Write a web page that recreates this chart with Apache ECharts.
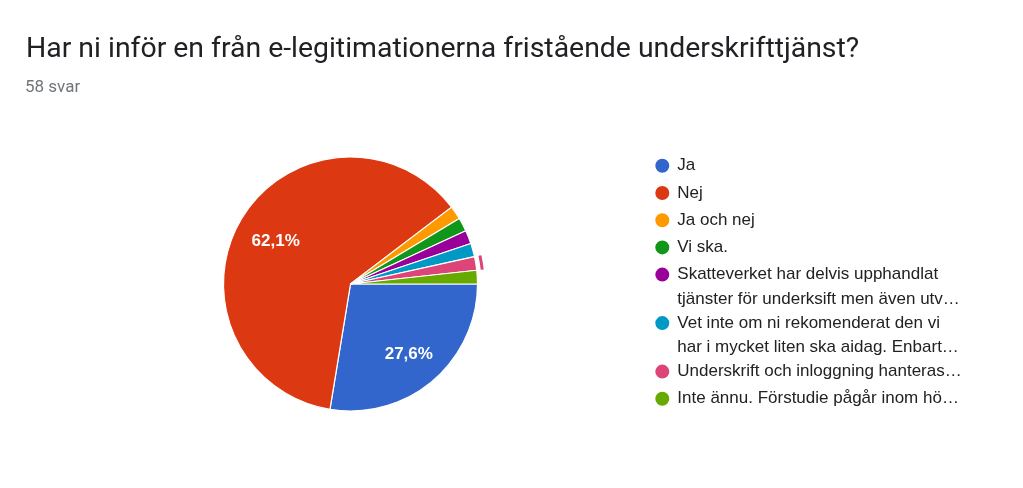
<!DOCTYPE html>
<html><head><meta charset="utf-8">
<script src="https://cdn.jsdelivr.net/npm/echarts@6/dist/echarts.min.js"></script>
<style>html,body{margin:0;padding:0;background:#fff}#c{width:1023px;height:488px}</style>
</head><body><div id="c"></div>
<script>
const titleText = 'Har ni inför en från e-legitimationerna fristående underskrifttjänst?';
const subtitleText = '58 svar';
const categories = [
  'Ja',
  'Nej',
  'Ja och nej',
  'Vi ska.',
  'Skatteverket har delvis upphandlat\ntjänster för underksift men även utv…',
  'Vet inte om ni rekomenderat den vi\nhar i mycket liten ska aidag. Enbart…',
  'Underskrift och inloggning hanteras…',
  'Inte ännu. Förstudie pågår inom hö…'
];
const counts = [16, 36, 1, 1, 1, 1, 1, 1];
const colors = ['#3366cc', '#dc3912', '#ff9900', '#109618', '#990099', '#0099c6', '#dd4477', '#66aa00'];
const highlightedCategory = 'Underskrift och inloggning hanteras…';

const total = counts.reduce((a, b) => a + b, 0);
const pieData = categories.map((name, i) => ({ name: name, value: counts[i], itemStyle: { color: colors[i] } }));

const CX = 350.5, CY = 284, R = 127;
const legendFont = 'Liberation Sans, Arial, sans-serif';
const lh = 24.5;
const lineStep = 21.3, itemStep = 5.9, firstRowY = 165.8;
let lineIdx = 0;
const legends = categories.map((name, i) => {
  const lines = name.split('\n');
  const n = lines.length;
  const cy = firstRowY + lineIdx * lineStep + i * itemStep;
  lineIdx += n;
  const H = (2 * n - 1) * lh;
  return {
    orient: 'vertical',
    left: 653.3,
    top: cy - H / 2,
    padding: 0,
    itemWidth: 20,
    itemHeight: 16,
    itemGap: 0,
    icon: 'circle',
    selectedMode: false,
    data: [name],
    formatter: () => {
      const body = lines.map(l => '{t|' + l + '}').join('\n');
      return n > 1 ? lines.slice(1).map(() => '{sp| }').join('\n') + '\n' + body : body;
    },
    textStyle: {
      fontFamily: legendFont,
      fontSize: 17,
      color: '#222222',
      lineHeight: lh,
      rich: {
        t: { fontFamily: legendFont, fontSize: 17, color: '#222222', lineHeight: lh },
        sp: { fontFamily: legendFont, fontSize: 17, color: 'rgba(0,0,0,0)', lineHeight: lh }
      }
    }
  };
});

const chart = echarts.init(document.getElementById('c'));
chart.setOption({
  animation: false,
  backgroundColor: '#ffffff',
  title: [
    { text: titleText, left: 26, top: 36, padding: 0,
      textStyle: { fontFamily: 'Roboto, sans-serif', fontSize: 28.4, lineHeight: 28, fontWeight: 'normal', color: '#202124' } },
    { text: subtitleText, left: 25, top: 79, padding: 0,
      textStyle: { fontFamily: 'Roboto, sans-serif', fontSize: 17, lineHeight: 17, fontWeight: 'normal', color: '#70757a' } }
  ],
  legend: legends,
  series: [
    {
      type: 'pie', center: [CX, CY], radius: [0, R], startAngle: 0, clockwise: true,
      avoidLabelOverlap: false, silent: true,
      label: { show: false }, labelLine: { show: false },
      itemStyle: { borderColor: '#ffffff', borderWidth: 1.2 },
      emphasis: { disabled: true },
      data: pieData
    },
    {
      type: 'pie', center: [CX, CY], radius: [44, R], startAngle: 0, clockwise: true,
      avoidLabelOverlap: false, silent: true,
      itemStyle: { color: 'rgba(0,0,0,0)' },
      emphasis: { disabled: true },
      label: {
        show: true, position: 'inside', color: '#ffffff', offset: [1, 3],
        fontFamily: legendFont, fontSize: 17, fontWeight: 'bold',
        formatter: p => (p.value / total * 100 >= 5 ? (p.value / total * 100).toFixed(1).replace('.', ',') + '%' : '')
      },
      labelLine: { show: false },
      data: categories.map((name, i) => ({ name: name, value: counts[i] }))
    },
    {
      type: 'pie', center: [CX, CY], radius: [131, 134], startAngle: 0, clockwise: true,
      avoidLabelOverlap: false, silent: true,
      label: { show: false }, labelLine: { show: false },
      emphasis: { disabled: true },
      data: categories.map((name, i) => ({
        name: name, value: counts[i],
        itemStyle: { color: name === highlightedCategory ? colors[i] : 'rgba(0,0,0,0)' }
      }))
    }
  ]
});
</script>
</body></html>
